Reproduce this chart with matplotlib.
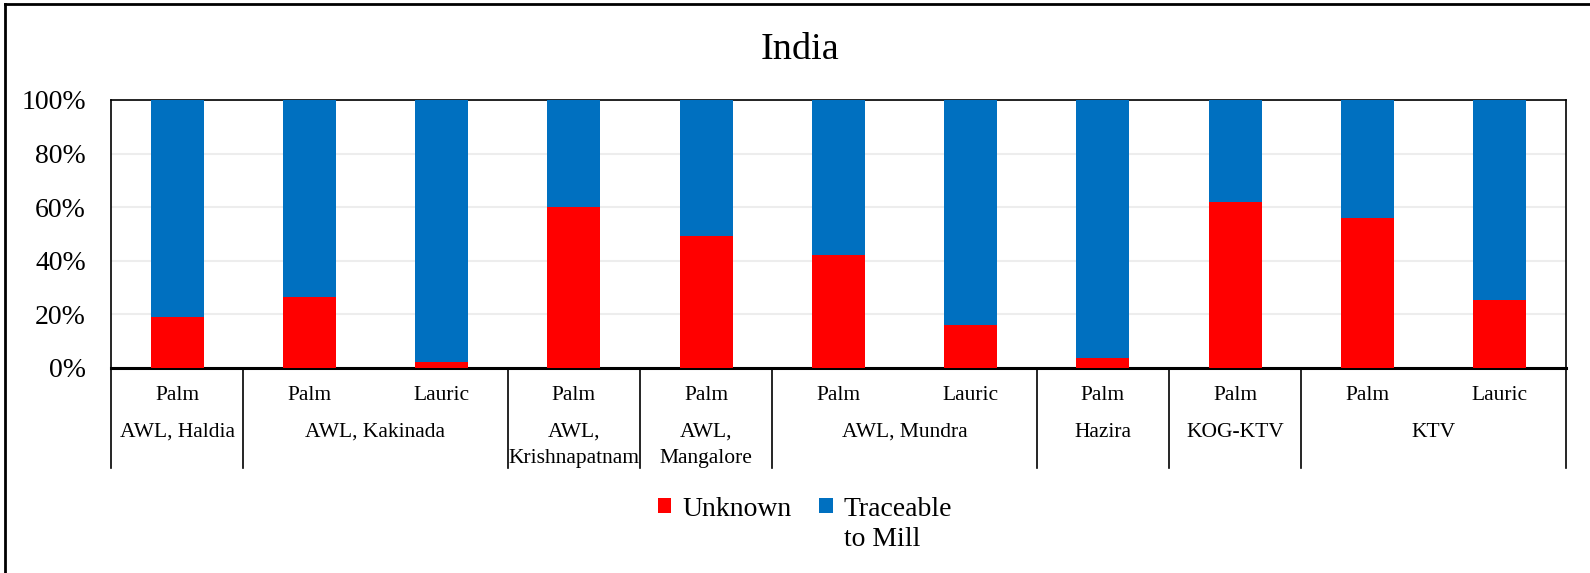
import matplotlib
matplotlib.use("Agg")
import matplotlib.pyplot as plt
import matplotlib.transforms as mtransforms
from matplotlib.lines import Line2D
import numpy as np

plt.rcParams['font.family'] = ['Liberation Serif', 'DejaVu Serif']

title = "India"
groups = ["AWL, Haldia", "AWL, Kakinada", "AWL,\nKrishnapatnam", "AWL,\nMangalore",
          "AWL, Mundra", "Hazira", "KOG-KTV", "KTV"]
group_sizes = [1, 2, 1, 1, 2, 1, 1, 2]
oil_types = ["Palm", "Palm", "Lauric", "Palm", "Palm", "Palm", "Lauric", "Palm", "Palm", "Palm", "Lauric"]
unknown = [19.1, 26.3, 2.1, 60.2, 49.1, 42.0, 15.8, 3.5, 62.0, 55.8, 25.3]
traceable = [100 - u for u in unknown]
series_names = ["Unknown", "Traceable"]
series_name_2_line2 = "to Mill"
colors = ["#FF0000", "#0070C0"]
yticks = [0, 20, 40, 60, 80, 100]
ytick_labels = ["0%", "20%", "40%", "60%", "80%", "100%"]

W, H = 1590, 573
fig = plt.figure(figsize=(W / 100, H / 100), dpi=100)
ax = fig.add_axes([111 / W, 1 - 367.7 / H, (1565.7 - 111) / W, (367.7 - 100) / H])

x = np.arange(len(oil_types))
ax.bar(x, unknown, width=0.4, color=colors[0], label=series_names[0], zorder=3)
ax.bar(x, traceable, width=0.4, bottom=unknown, color=colors[1], label=series_names[1], zorder=3)

ax.set_xlim(-0.5, len(oil_types) - 0.5)
ax.set_ylim(0, 100)
ax.set_yticks(yticks)
ax.set_yticklabels(ytick_labels, fontsize=20)
ax.tick_params(axis='y', length=0, pad=18)
ax.yaxis.grid(True, color="#EDEDED", linewidth=1.5, zorder=0)
ax.set_axisbelow(True)
ax.set_xticks([])
for s in ["top", "right", "left"]:
    ax.spines[s].set_linewidth(1.2)
    ax.spines[s].set_color("black")
ax.spines["bottom"].set_linewidth(2.2)

trans = mtransforms.blended_transform_factory(ax.transData, ax.transAxes)
# row 1 labels
for xi, lab in zip(x, oil_types):
    ax.text(xi, -0.105, lab, transform=trans, ha='center', va='center', fontsize=15.5)
# row 2 labels and separators
start = 0
bounds = [-0.5]
for g, n in zip(groups, group_sizes):
    center = start + (n - 1) / 2
    ax.text(center, -0.205, g, transform=trans, ha='center', va='top', fontsize=15.5, linespacing=1.5)
    start += n
    bounds.append(start - 0.5)
for b in bounds:
    ax.add_line(Line2D([b, b], [0, -0.375], transform=trans, color='black', linewidth=1.2, clip_on=False))

fig.text(800 / W, 1 - 50 / H, title, fontsize=27.5, ha='center', va='center')

leg = fig.legend(loc='center', bbox_to_anchor=(805 / W, 1 - 509 / H), ncol=2, frameon=False,
                 fontsize=20, handlelength=0.48, handleheight=0.48, handletextpad=0.4,
                 columnspacing=1.0, borderpad=0)

fig.canvas.draw()
t2 = leg.get_texts()[1]
bb = t2.get_window_extent()
fig.text(bb.x0 / W, (bb.y0 - 31) / H, series_name_2_line2, fontsize=20, ha='left', va='bottom')

# figure border (top and left visible)
fig.add_artist(Line2D([5 / W, 1.0], [1 - 4 / H, 1 - 4 / H], transform=fig.transFigure, color='black', linewidth=2))
fig.add_artist(Line2D([5 / W, 5 / W], [0, 1 - 4 / H], transform=fig.transFigure, color='black', linewidth=2))

fig.savefig("out.png", dpi=100)
